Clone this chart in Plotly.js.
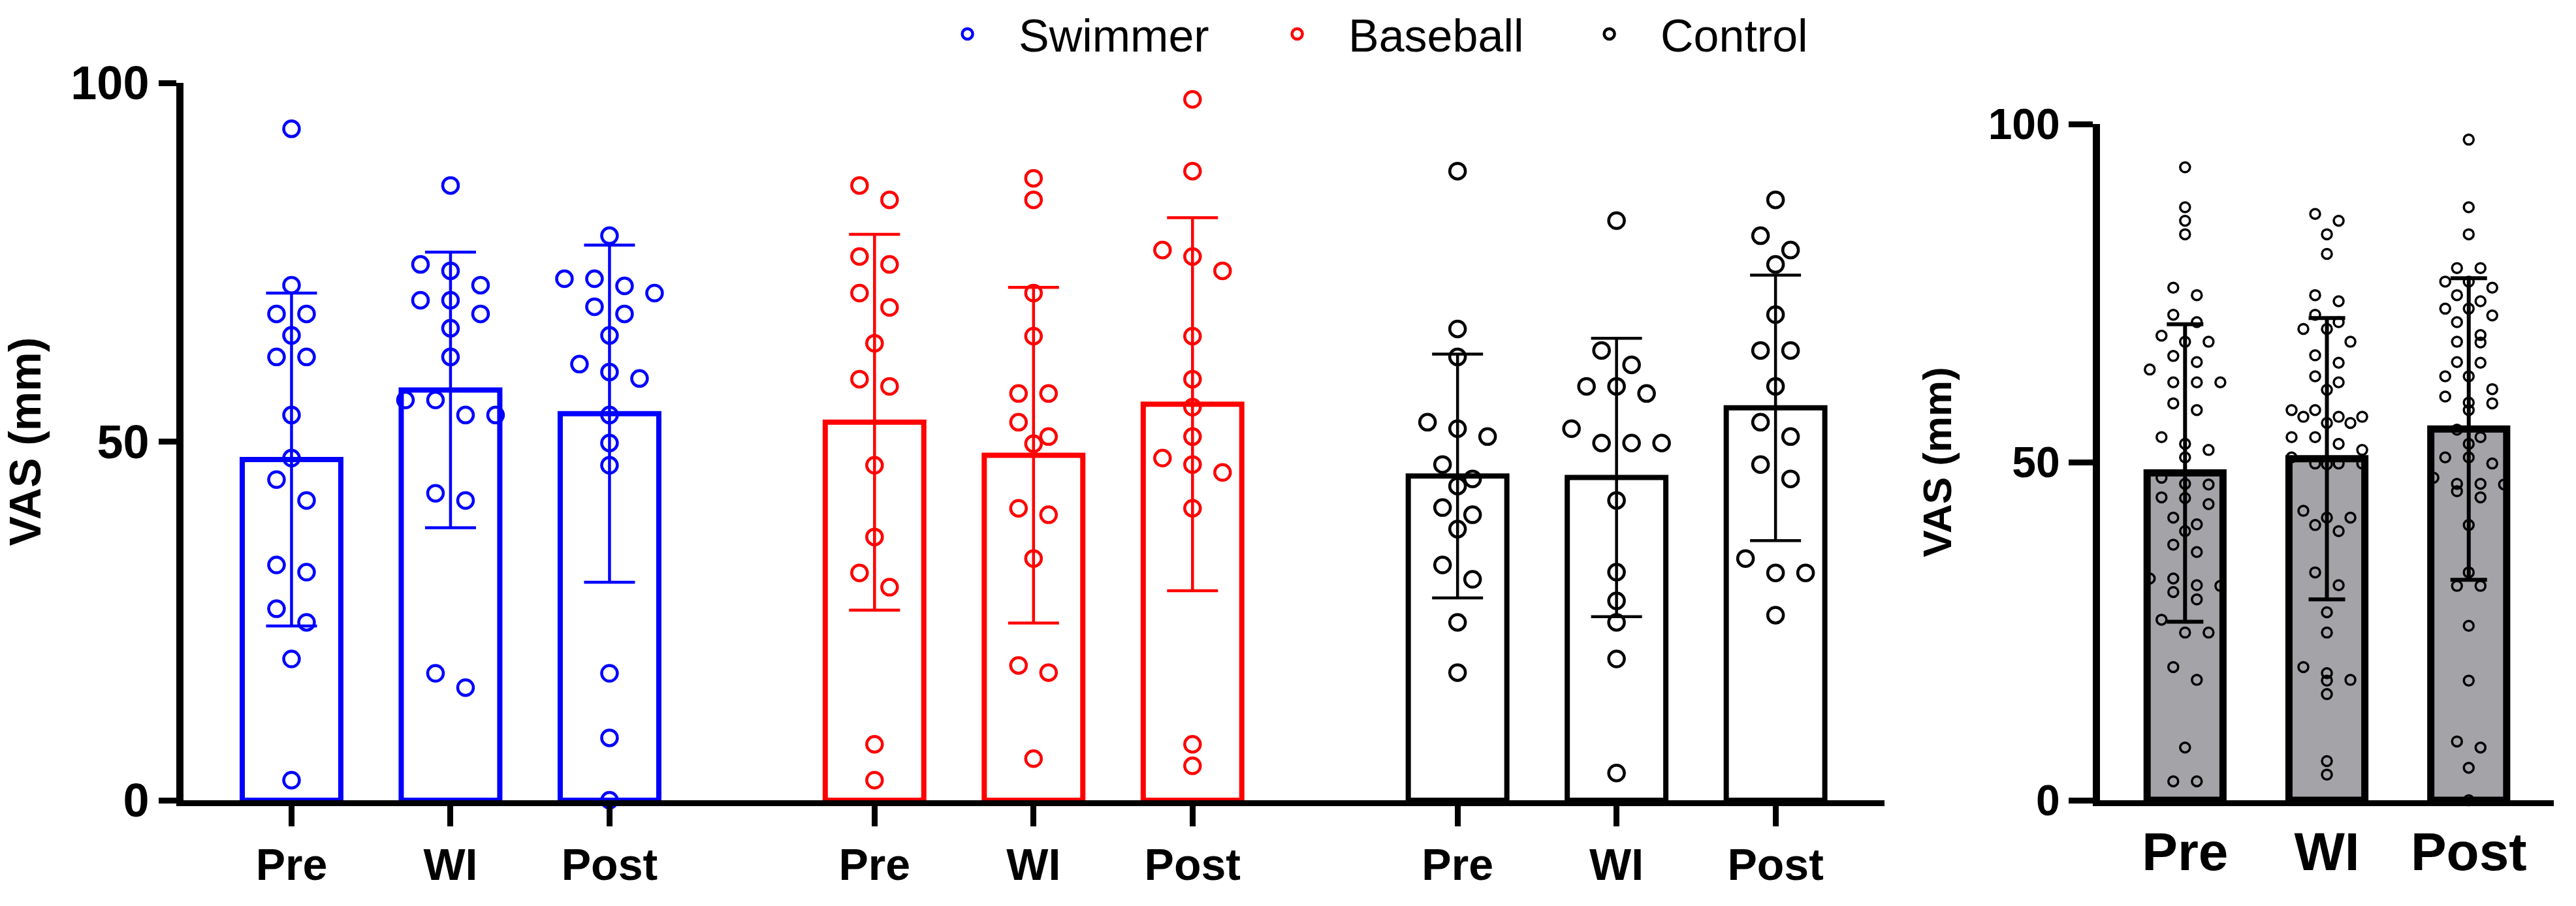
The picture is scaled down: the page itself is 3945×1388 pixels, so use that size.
<!DOCTYPE html>
<html>
<head>
<meta charset="utf-8">
<script src="https://cdn.plot.ly/plotly-3.0.1.min.js"></script>
<style>
  body { margin: 0; padding: 0; background: white; }
  #chart { width: 3945px; height: 1388px; }
</style>
</head>
<body>
<div id="chart"></div>
<script>
// values (VAS, mm)
var phases = ["Pre", "WI", "Post"];
var groups = ["Swimmer", "Baseball", "Control"];
var colors = ["#0000ff", "#ff0000", "#000000"];

var swimPre  = [93.6, 71.8, 67.8, 67.8, 64.8, 61.8, 61.8, 53.7, 47.7, 44.7, 41.8, 32.8, 31.8, 26.7, 24.8, 19.7, 2.8];
var swimWI   = [85.7, 74.7, 73.8, 71.8, 69.7, 69.7, 67.8, 65.8, 61.8, 55.8, 55.8, 53.7, 53.7, 42.8, 41.8, 17.7, 15.7];
var swimPost = [78.7, 72.7, 72.7, 71.7, 70.7, 68.8, 67.8, 64.8, 60.8, 59.7, 58.8, 53.7, 49.8, 46.7, 17.7, 8.7, 0];

var basePre  = [85.7, 83.7, 75.8, 74.7, 70.7, 68.7, 63.7, 58.7, 57.7, 46.7, 36.7, 31.7, 29.7, 7.8, 2.8];
var baseWI   = [86.7, 83.7, 70.7, 64.7, 56.7, 56.7, 52.7, 50.7, 49.7, 40.7, 39.8, 33.7, 18.8, 17.8, 5.8];
var basePost = [97.7, 87.7, 76.7, 75.8, 73.8, 64.7, 58.7, 54.8, 50.7, 47.7, 46.8, 45.7, 40.7, 7.8, 4.8];

var ctrlPre  = [87.7, 65.7, 61.8, 52.7, 51.8, 50.7, 46.8, 44.8, 43.8, 40.8, 39.8, 37.8, 32.8, 30.8, 24.8, 17.8];
var ctrlWI   = [80.8, 62.7, 60.7, 57.7, 57.7, 56.7, 51.8, 49.8, 49.8, 49.8, 41.8, 31.8, 27.8, 24.8, 19.7, 3.8];
var ctrlPost = [83.7, 78.7, 76.7, 74.7, 67.7, 62.7, 62.7, 57.7, 52.7, 50.7, 46.8, 44.8, 33.7, 31.7, 31.7, 25.8];

// bar heights and SD as drawn
var swimMean = [47.5, 57.2, 53.9];
var swimSD   = [23.2, 19.2, 23.5];
var baseMean = [52.7, 48.1, 55.2];
var baseSD   = [26.2, 23.4, 26.0];
var ctrlMean = [45.2, 45.0, 54.7];
var ctrlSD   = [17.0, 19.4, 18.5];
var allMean  = [48.4, 50.5, 54.9];
var allSD    = [22.0, 20.8, 22.3];

var groupData = [
  [swimPre, swimWI, swimPost],
  [basePre, baseWI, basePost],
  [ctrlPre, ctrlWI, ctrlPost]
];
var groupMean = [swimMean, baseMean, ctrlMean];
var groupSD = [swimSD, baseSD, ctrlSD];

// pooled = all three groups together
var pooled = [0, 1, 2].map(function (p) {
  return [].concat(groupData[0][p], groupData[1][p], groupData[2][p]);
});

// prism-like scatter: points close in value share a row, row is centred
function swarm(vals, center, pxX, pxY, Dx, Dy, maxRow) {
  var order = vals.map(function (v, i) { return i; });
  order.sort(function (a, b) { return vals[b] - vals[a]; });
  var rows = [], cur = null;
  order.forEach(function (i) {
    if (cur && cur.length < maxRow && (vals[cur[0]] - vals[i]) * pxY < Dy) cur.push(i);
    else { cur = [i]; rows.push(cur); }
  });
  var xs = new Array(vals.length);
  rows.forEach(function (r) {
    var n = r.length;
    r.forEach(function (i, j) {
      xs[i] = center + (j - (n - 1) / 2) * Dx / pxX;
    });
  });
  return xs;
}

var leftPxX = 243.5, leftPxY = 10.99;
var rightPxX = 217, rightPxY = 10.36;
var groupGap = 3.667;
var legendW = [460, 433, 400];

var traces = [];
var tickPos = [], tickText = [];

// left panel: bars per group
groups.forEach(function (g, gi) {
  var xs = [0, 1, 2].map(function (p) { return gi * groupGap + p; });
  xs.forEach(function (x, p) { tickPos.push(x); tickText.push(phases[p]); });
  traces.push({
    type: "bar", x: xs, y: groupMean[gi], width: 0.62,
    xaxis: "x", yaxis: "y", showlegend: false, hoverinfo: "skip",
    marker: { color: "white", line: { color: colors[gi], width: 8 } },
    error_y: { type: "data", array: groupSD[gi], color: colors[gi], thickness: 4.5, width: 39 }
  });
});

// left panel: points
groups.forEach(function (g, gi) {
  [0, 1, 2].forEach(function (p) {
    var vals = groupData[gi][p];
    traces.push({
      type: "scatter", mode: "markers",
      x: swarm(vals, gi * groupGap + p, leftPxX, leftPxY, 46, 32, 4), y: vals,
      xaxis: "x", yaxis: "y", cliponaxis: false,
      name: "\u00a0\u00a0\u00a0" + g, legendgroup: g, showlegend: p === 0,
      legendwidth: legendW[gi],
      marker: { symbol: "circle-open", size: 24, color: colors[gi], line: { width: 4.5, color: colors[gi] } }
    });
  });
});

// right panel: pooled
traces.push({
  type: "bar", x: [0, 1, 2], y: allMean, width: 0.535,
  xaxis: "x2", yaxis: "y2", showlegend: false, hoverinfo: "skip",
  marker: { color: "#a4a4a8", line: { color: "black", width: 11 } },
  error_y: { type: "data", array: allSD, color: "black", thickness: 6, width: 28 }
});
[0, 1, 2].forEach(function (p) {
  traces.push({
    type: "scatter", mode: "markers",
    x: swarm(pooled[p], p, rightPxX, rightPxY, 36, 20, 4), y: pooled[p],
    xaxis: "x2", yaxis: "y2", cliponaxis: false, showlegend: false,
    marker: { symbol: "circle-open", size: 15, color: "black", line: { width: 3.5, color: "black" } }
  });
});

var fontFam = "Liberation Sans, Arial, sans-serif";

var layout = {
  width: 3945, height: 1388,
  margin: { l: 0, r: 0, t: 0, b: 0 },
  paper_bgcolor: "white", plot_bgcolor: "white",
  font: { family: fontFam, color: "black" },
  bargap: 0,
  showlegend: true,
  legend: {
    orientation: "h", x: 0.3705, y: 1.0, xanchor: "left", yanchor: "top",
    font: { size: 70, family: fontFam, color: "black" },
    traceorder: "normal"
  },
  xaxis: {
    domain: [0.0712, 0.7316], range: [-0.68, 10.02], anchor: "y",
    tickvals: tickPos, ticktext: tickText,
    ticks: "outside", ticklen: 31, tickwidth: 9, tickcolor: "black",
    showline: true, linewidth: 9, linecolor: "black",
    showgrid: false, zeroline: false,
    tickfont: { size: 68, family: fontFam, weight: "bold" }
  },
  yaxis: {
    domain: [0.1167, 0.9085], range: [0, 100], anchor: "x",
    tickvals: [0, 50, 100],
    ticks: "outside", ticklen: 27, tickwidth: 9, tickcolor: "black",
    showline: true, linewidth: 11, linecolor: "black",
    showgrid: false, zeroline: false,
    tickfont: { size: 72, family: fontFam, weight: "bold" },
    title: { text: "VAS (mm)", standoff: 30, font: { size: 68, family: fontFam, weight: "bold" } }
  },
  xaxis2: {
    domain: [0.8152, 0.9914], range: [-0.6, 2.6], anchor: "y2",
    tickvals: [0, 1, 2], ticktext: phases,
    ticks: "", showline: true, linewidth: 9, linecolor: "black",
    showgrid: false, zeroline: false,
    tickfont: { size: 82, family: fontFam, weight: "bold" }
  },
  yaxis2: {
    domain: [0.1167, 0.8631], range: [0, 100], anchor: "x2",
    tickvals: [0, 50, 100],
    ticks: "outside", ticklen: 37, tickwidth: 9, tickcolor: "black",
    showline: true, linewidth: 11, linecolor: "black",
    showgrid: false, zeroline: false,
    tickfont: { size: 66, family: fontFam, weight: "bold" },
    title: { text: "VAS (mm)", standoff: 40, font: { size: 62, family: fontFam, weight: "bold" } }
  }
};

Plotly.newPlot("chart", traces, layout, { staticPlot: true });
</script>
</body>
</html>
